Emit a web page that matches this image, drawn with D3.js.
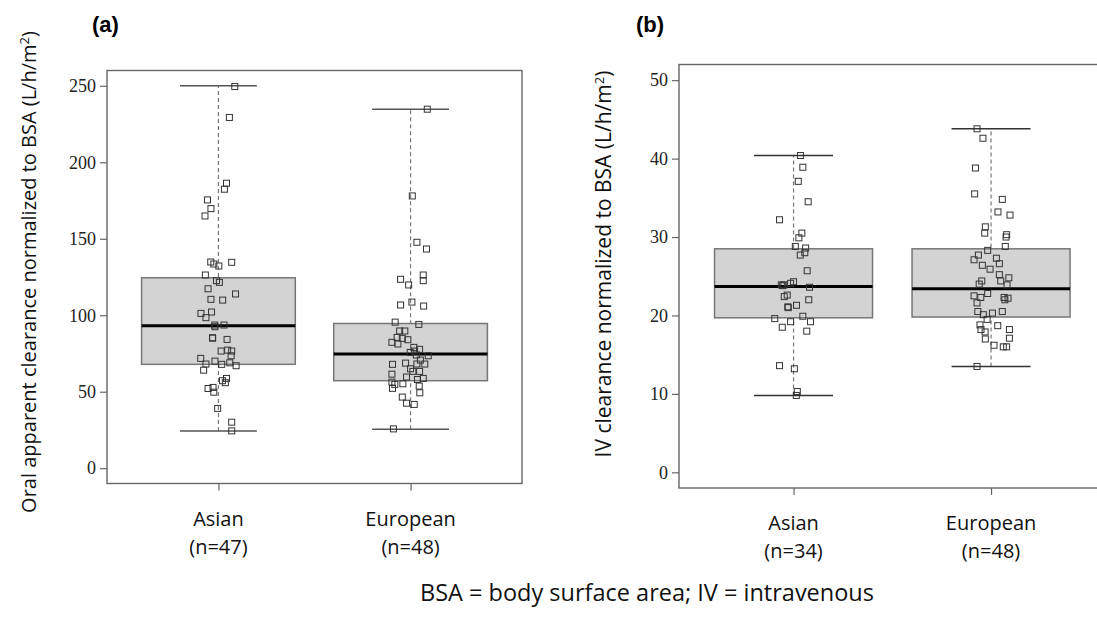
<!DOCTYPE html>
<html>
<head>
<meta charset="utf-8">
<script src="https://cdn.jsdelivr.net/npm/d3@7"></script>
<style>
  body { margin: 0; background: #fff; }
  svg { display: block; }
</style>
</head>
<body>
<script>
// categories and tick labels
var groups = ['Asian', 'European']
var countsOral = ['(n=47)', '(n=48)']
var countsIV = ['(n=34)', '(n=48)']
var ticksOral = [0, 50, 100, 150, 200, 250]
var ticksIV = [0, 10, 20, 30, 40, 50]

// box stats: [low whisker, q1, median, q3, high whisker]
var statsOral = [[24.4, 67.9, 93.1, 124.5, 250], [25.5, 57.2, 74.6, 94.6, 234.7]]
var statsIV = [[9.8, 19.7, 23.7, 28.5, 40.4], [13.5, 19.8, 23.4, 28.5, 43.8]]

// individual patients: [horizontal jitter (category units), value]
var oralAsian = [
  [0.085, 249.5], [0.057, 229.3], [0.042, 186.3], [0.031, 182.4], [-0.057, 175.4],
  [-0.039, 169.7], [-0.070, 164.9], [-0.040, 134.8], [-0.024, 133.5], [0.002, 132.2],
  [0.069, 134.6], [-0.068, 126.3], [-0.010, 122.6], [0.005, 121.5], [-0.054, 117.3],
  [0.089, 113.9], [-0.039, 110.4], [0.022, 109.9], [-0.091, 101.2], [-0.036, 102.1],
  [-0.065, 98.4], [-0.019, 93.6], [0.029, 93.6], [-0.018, 92.5], [-0.031, 85.3],
  [-0.030, 85.0], [0.045, 84.2], [0.014, 76.6], [0.048, 77.2], [0.069, 76.6],
  [0.066, 73.5], [-0.092, 71.8], [-0.065, 68.1], [-0.018, 70.0], [0.017, 67.9],
  [0.059, 68.9], [0.092, 67.0], [-0.077, 64.1], [0.042, 58.7], [0.021, 57.2],
  [0.036, 55.9], [-0.054, 52.1], [-0.028, 52.8], [-0.024, 49.7], [-0.004, 39.1],
  [0.069, 30.1], [0.069, 24.4]
]
var oralEuropean = [
  [0.087, 234.7], [0.009, 178.0], [0.033, 147.7], [0.083, 143.3], [0.066, 126.3],
  [0.066, 122.6], [-0.052, 123.5], [-0.010, 119.8], [-0.052, 106.7], [0.007, 108.6],
  [0.068, 106.0], [-0.080, 95.5], [0.043, 94.0], [-0.057, 89.7], [-0.030, 89.7],
  [-0.043, 84.9], [-0.014, 84.0], [-0.097, 82.3], [-0.066, 81.2], [0.017, 79.0],
  [0.047, 77.7], [-0.002, 75.7], [0.021, 76.6], [0.092, 73.5], [-0.094, 67.9],
  [-0.026, 68.7], [0.033, 68.1], [0.051, 70.7], [0.074, 68.1], [-0.097, 61.5],
  [0.012, 63.3], [0.047, 63.3], [-0.021, 59.6], [0.036, 58.0], [0.066, 58.7],
  [-0.097, 56.3], [-0.082, 54.8], [-0.094, 52.2], [-0.040, 55.2], [0.045, 53.7],
  [0.048, 49.3], [-0.043, 46.5], [-0.021, 42.5], [0.019, 41.7], [-0.089, 25.7],
  [0.030, 74.0], [-0.070, 85.5], [0.000, 65.0]
]
var ivAsian = [
  [0.035, 40.4], [0.047, 38.9], [0.024, 37.1], [0.074, 34.5], [-0.071, 32.2],
  [0.042, 30.5], [0.027, 29.9], [0.009, 28.8], [0.061, 28.6], [0.057, 28.0],
  [0.034, 27.7], [0.069, 25.7], [0.000, 24.3], [-0.015, 24.1], [-0.049, 23.9],
  [-0.062, 23.9], [0.081, 23.6], [-0.032, 22.6], [-0.047, 22.4], [0.077, 22.0],
  [0.015, 21.3], [-0.029, 21.1], [-0.027, 21.0], [-0.095, 19.6], [-0.015, 19.2],
  [0.047, 19.9], [0.086, 19.2], [-0.057, 18.5], [0.067, 18.0], [-0.071, 13.6],
  [0.004, 13.2], [0.019, 10.3], [0.014, 9.8], [-0.055, 23.8]
]
var ivEuropean = [
  [-0.071, 43.8], [-0.041, 42.6], [-0.079, 38.8], [-0.083, 35.5], [0.057, 34.8],
  [0.035, 33.2], [0.096, 32.8], [-0.029, 31.3], [-0.032, 30.5], [0.079, 30.3],
  [0.076, 30.0], [0.072, 28.8], [-0.017, 28.3], [-0.064, 27.7], [-0.086, 27.1],
  [0.027, 27.3], [-0.044, 26.4], [0.042, 26.6], [-0.005, 25.9], [0.042, 25.2],
  [0.090, 24.8], [-0.047, 24.4], [0.049, 24.4], [0.081, 23.9], [-0.086, 22.5],
  [-0.052, 22.3], [-0.017, 22.8], [0.066, 22.3], [0.086, 22.2], [-0.071, 21.6],
  [-0.067, 20.5], [-0.039, 20.1], [-0.020, 19.5], [0.007, 20.3], [0.057, 20.5],
  [-0.056, 18.8], [-0.051, 18.2], [-0.030, 17.9], [0.034, 18.7], [0.093, 18.2],
  [-0.029, 17.0], [0.093, 17.1], [0.015, 16.2], [0.062, 16.0], [0.079, 16.0],
  [-0.071, 13.5], [0.070, 22.0], [-0.060, 24.0]
]

var width = 1097, height = 618
var sans = "'Open Sans', sans-serif"
var serif = "'Liberation Serif', 'Times New Roman', serif"

var svg = d3.select('body').append('svg')
  .attr('width', width)
  .attr('height', height)

function drawPanel (cfg) {
  var x = d3.scaleLinear().domain([0.42, 2.58]).range([cfg.left, cfg.right])
  var y = d3.scaleLinear().domain(cfg.yDomain).range([cfg.bottom, cfg.top])
  var g = svg.append('g')
  var half = 0.4, capHalf = 0.2

  // y axis
  var ya = g.append('g')
    .attr('transform', 'translate(' + cfg.left + ',0)')
    .call(d3.axisLeft(y).tickValues(cfg.ticks).tickSize(7).tickSizeOuter(0).tickPadding(4))
  ya.select('.domain').remove()
  ya.selectAll('line').attr('stroke', '#666').attr('stroke-width', 1.2)
  ya.selectAll('text')
    .style('font-family', serif).style('font-size', '18px').attr('fill', '#222')

  // x ticks
  var xa = g.append('g')
    .attr('transform', 'translate(0,' + cfg.bottom + ')')
    .call(d3.axisBottom(x).tickValues([1, 2]).tickSize(7).tickSizeOuter(0).tickFormat(''))
  xa.select('.domain').remove()
  xa.selectAll('line').attr('stroke', '#666').attr('stroke-width', 1.2)

  groups.forEach(function (name, i) {
    var lx = x(i + 1)
    g.append('text').attr('x', lx).attr('y', cfg.bottom + cfg.labelGap)
      .attr('text-anchor', 'middle').style('font-family', sans).style('font-size', '20px')
      .attr('fill', '#111').text(name)
    g.append('text').attr('x', lx).attr('y', cfg.bottom + cfg.labelGap + 28)
      .attr('text-anchor', 'middle').style('font-family', sans).style('font-size', '20px')
      .attr('fill', '#111').text(cfg.counts[i])
  })

  cfg.stats.forEach(function (s, i) {
    var c = i + 1
    // whisker
    g.append('line')
      .attr('x1', x(c)).attr('x2', x(c))
      .attr('y1', y(s[0])).attr('y2', y(s[4]))
      .attr('stroke', '#777').attr('stroke-width', 1.2)
      .attr('stroke-dasharray', '4,3')
    // caps
    ;[s[0], s[4]].forEach(function (v) {
      g.append('line')
        .attr('x1', x(c - capHalf)).attr('x2', x(c + capHalf))
        .attr('y1', y(v)).attr('y2', y(v))
        .attr('stroke', cfg.capColor).attr('stroke-width', 1.5)
    })
    // box
    g.append('rect')
      .attr('x', x(c - half)).attr('width', x(c + half) - x(c - half))
      .attr('y', y(s[3])).attr('height', y(s[1]) - y(s[3]))
      .attr('fill', '#d3d3d3').attr('stroke', '#777').attr('stroke-width', 1.5)
    // median
    g.append('line')
      .attr('x1', x(c - half)).attr('x2', x(c + half))
      .attr('y1', y(s[2])).attr('y2', y(s[2]))
      .attr('stroke', '#000').attr('stroke-width', 3)
  })

  // points
  cfg.points.forEach(function (pts, i) {
    g.selectAll('rect.pt' + i)
      .data(pts)
      .enter().append('rect')
      .attr('class', 'pt' + i)
      .attr('x', function (d) { return x(i + 1 + d[0]) - 3 })
      .attr('y', function (d) { return y(d[1]) - 3 })
      .attr('width', 6).attr('height', 6)
      .attr('fill', 'none').attr('stroke', '#333').attr('stroke-width', 1)
  })

  // frame
  g.append('rect')
    .attr('x', cfg.left).attr('y', cfg.top)
    .attr('width', cfg.right - cfg.left).attr('height', cfg.bottom - cfg.top)
    .attr('fill', 'none').attr('stroke', '#666').attr('stroke-width', 1.4)

  // y title
  var t = g.append('text')
    .attr('transform', 'translate(' + cfg.titleX + ',' + cfg.titleY + ') rotate(-90)')
    .attr('text-anchor', 'middle').style('font-family', sans).style('font-size', cfg.titleSize + 'px')
    .attr('fill', '#111')
  t.append('tspan').text(cfg.title)
  t.append('tspan').style('font-size', '13px').attr('dy', -7).text('2')
  t.append('tspan').attr('dy', 7).text(')')

  // panel tag
  g.append('text').attr('x', cfg.tagX).attr('y', 32)
    .style('font-family', "'Liberation Sans', Arial, sans-serif").attr('font-weight', 'bold')
    .style('font-size', '22px').attr('fill', '#000').text(cfg.tag)
}

drawPanel({
  left: 107, right: 522, top: 70.5, bottom: 483.5,
  yDomain: [-10, 260], ticks: ticksOral,
  stats: statsOral, points: [oralAsian, oralEuropean], counts: countsOral,
  capColor: '#555', labelGap: 42,
  title: 'Oral apparent clearance normalized to BSA (L/h/m', titleSize: 20, titleX: 36, titleY: 272,
  tag: '(a)', tagX: 92
})

drawPanel({
  left: 679, right: 1105.6, top: 64.5, bottom: 488,
  yDomain: [-2, 52], ticks: ticksIV,
  stats: statsIV, points: [ivAsian, ivEuropean], counts: countsIV,
  capColor: '#333', labelGap: 42,
  title: 'IV clearance normalized to BSA (L/h/m', titleSize: 21, titleX: 611, titleY: 264,
  tag: '(b)', tagX: 636
})

svg.append('text')
  .attr('x', 647).attr('y', 601)
  .attr('text-anchor', 'middle').style('font-family', sans).style('font-size', '23.5px')
  .attr('fill', '#111')
  .text('BSA = body surface area; IV = intravenous')
</script>
</body>
</html>
